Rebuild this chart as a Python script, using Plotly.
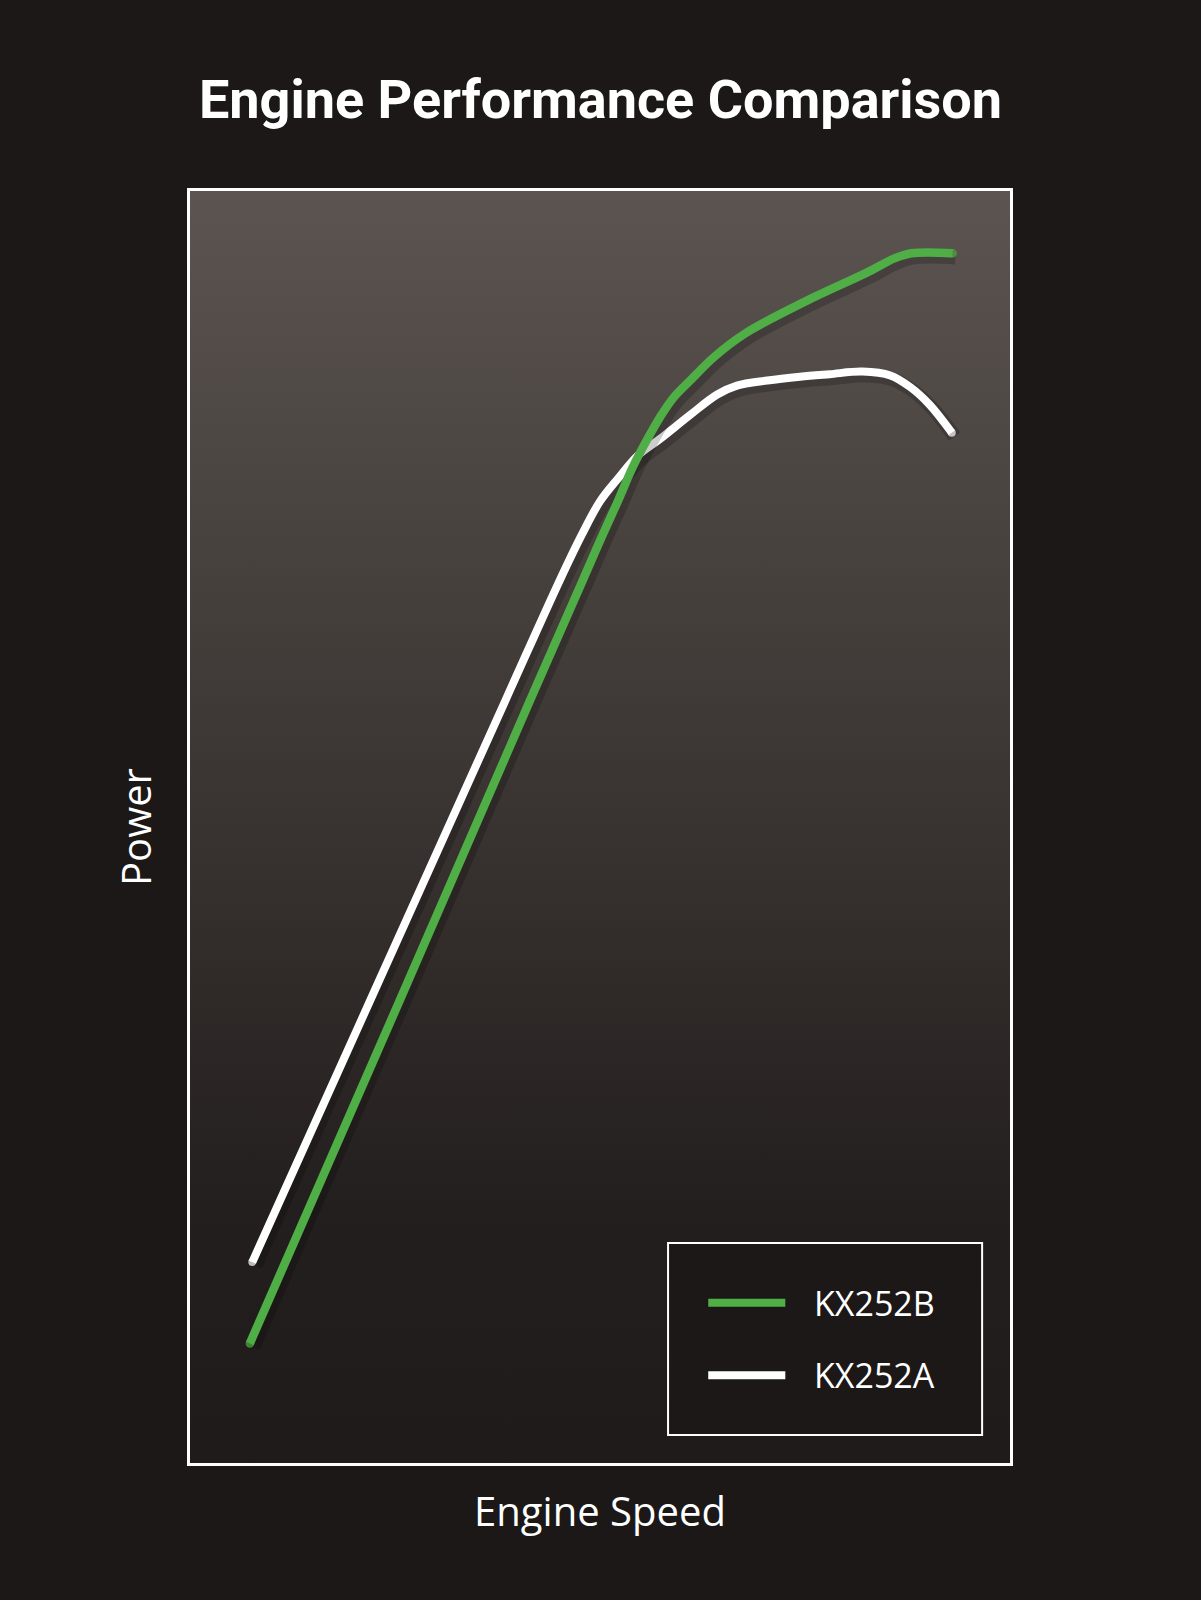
import base64
import plotly.graph_objects as go

# curve readings, both axes as % of the frame (no units on the original)
speed_b = [7.3, 25.6, 41.5, 47.9, 50.0, 52.1, 54.0, 55.7, 57.3, 58.9, 61.0, 64.0, 67.7, 75.0, 82.6, 85.9, 88.0, 93.0]
power_b = [9.4, 36.4, 60.0, 69.4, 72.5, 75.5, 78.3, 80.4, 82.2, 83.7, 85.1, 87.0, 88.8, 91.3, 93.6, 94.7, 95.1, 95.1]

speed_a = [7.6, 22.0, 38.5, 45.1, 47.8, 50.0, 52.2, 54.6, 57.3, 61.0, 64.3, 66.7, 70.4, 74.4, 78.0, 82.0, 85.4, 87.8, 90.2, 92.9]
power_a = [15.8, 36.4, 60.0, 69.4, 73.0, 75.6, 77.4, 79.2, 80.5, 82.4, 84.0, 84.7, 85.1, 85.4, 85.6, 85.8, 85.5, 84.6, 83.2, 81.0]

names = ["KX252B", "KX252A"]
colors = ["#4fae45", "#ffffff"]

W, H = 1201, 1600
bg = "#1b1817"
txt_font = "Open Sans, Noto Sans, sans-serif"

# gradient for the plot area
svg = """<svg xmlns='http://www.w3.org/2000/svg' width='100' height='100' preserveAspectRatio='none'>
<defs><linearGradient id='g' x1='0' y1='0' x2='0' y2='1'>
<stop offset='0' stop-color='#5b5451'/>
<stop offset='0.25' stop-color='#4a4441'/>
<stop offset='0.55' stop-color='#352f2d'/>
<stop offset='0.8' stop-color='#231f1e'/>
<stop offset='1' stop-color='#1f1b1a'/>
</linearGradient></defs>
<rect width='100' height='100' fill='url(#g)'/></svg>"""
grad_src = "data:image/svg+xml;base64," + base64.b64encode(svg.encode()).decode()

fig = go.Figure()

series = [(speed_a, power_a, names[1], colors[1], 8), (speed_b, power_b, names[0], colors[0], 8.5)]
for xs, ys, nm, col, lw in series:
    # soft drop shadow under each curve
    fig.add_trace(go.Scatter(
        x=[v + 0.35 for v in xs], y=[v - 0.3 for v in ys],
        mode="lines", line=dict(color="rgba(0,0,0,0.2)", width=lw + 6, shape="spline", smoothing=1),
        hoverinfo="skip", showlegend=False))
    # round the two ends with markers
    ends = [lw] + [0] * (len(xs) - 2) + [lw]
    fig.add_trace(go.Scatter(
        x=xs, y=ys, mode="lines+markers", name=nm,
        line=dict(color=col, width=lw, shape="spline", smoothing=1),
        marker=dict(size=ends, color=col, line=dict(width=0)),
        hoverinfo="skip", showlegend=False))

# legend box drawn by hand (long swatches like the original)
fig.add_shape(type="rect", xref="paper", yref="paper", x0=0.583, x1=0.966, y0=0.022, y1=0.173,
              line=dict(color="white", width=2), fillcolor="#1c1817", layer="above")
leg_y = [0.126, 0.069]
for i in range(2):
    fig.add_shape(type="line", xref="paper", yref="paper", x0=0.632, x1=0.726, y0=leg_y[i], y1=leg_y[i],
                  line=dict(color=colors[i], width=8), layer="above")
    fig.add_annotation(xref="paper", yref="paper", x=0.758, y=leg_y[i], text=names[i],
                       showarrow=False, xanchor="left", yanchor="middle",
                       font=dict(family=txt_font, size=34, color="white"))

fig.add_layout_image(source=grad_src, xref="paper", yref="paper", x=0, y=1, sizex=1, sizey=1,
                     xanchor="left", yanchor="top", sizing="stretch", layer="below")

axis_common = dict(range=[0, 100], showgrid=False, zeroline=False, showticklabels=False, ticks="",
                   showline=True, mirror=True, linecolor="white", linewidth=2.5, fixedrange=True)

fig.update_layout(
    width=W, height=H,
    paper_bgcolor=bg, plot_bgcolor="rgba(0,0,0,0)",
    margin=dict(l=190, r=191, t=191, b=137),
    title=dict(text="<b>Engine Performance Comparison</b>", x=0.5, xanchor="center",
               y=1 - 99 / H, yanchor="middle",
               font=dict(family="Roboto, sans-serif", size=54, color="white")),
    xaxis=dict(axis_common, title=dict(text="Engine Speed", standoff=34,
                                       font=dict(family=txt_font, size=40, color="white"))),
    yaxis=dict(axis_common, title=dict(text="Power", standoff=24,
                                       font=dict(family=txt_font, size=40, color="white"))),
    showlegend=False,
)

# no white page margin around the chart, no toolbar
fig.write_html("out.html", config={"displayModeBar": False},
               post_script="document.body.style.margin='0';document.body.style.background='%s';" % bg)
